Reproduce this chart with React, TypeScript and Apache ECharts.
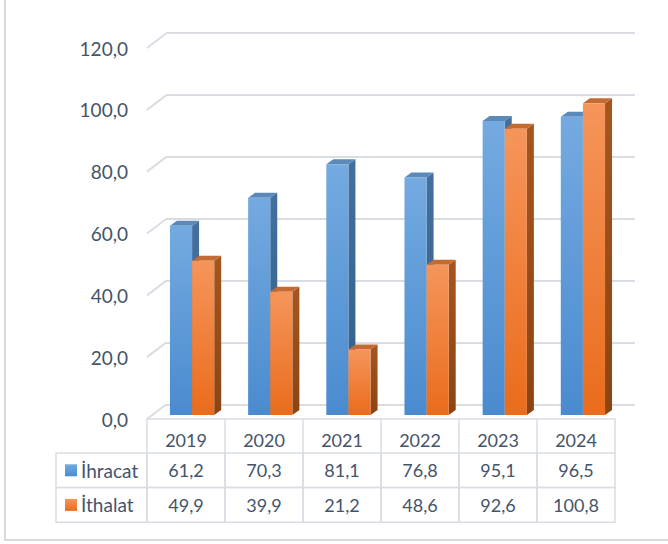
import React, { useEffect, useRef } from "react";
import * as echarts from "echarts";

const years = ["2019", "2020", "2021", "2022", "2023", "2024"];
const ihracat = [61.2, 70.3, 81.1, 76.8, 95.1, 96.5];
const ithalat = [49.9, 39.9, 21.2, 48.6, 92.6, 100.8];
const seriesNames = ["İhracat", "İthalat"];
const yMin = 0;
const yMax = 120;
const yStep = 20;
const yTicks = [0, 20, 40, 60, 80, 100, 120];

const TEXT = "#44546a";
const GRID = "#d9dde3";
const FONT = "Lato";
const DX = 7;
const DY = 5;
const ROW_TOP = 453;
const ROW_H = 34.6;

const fmt = (v: number) => v.toFixed(1).replace(".", ",");

const palettes = [
  {
    front: ["#74aae0", "#4a8bcf"],
    side: ["#43709f", "#345d8a"],
    top: "#5b89ba",
  },
  {
    front: ["#f5955b", "#ea6c1c"],
    side: ["#a5561f", "#8a4414"],
    top: "#c46b33",
  },
];

function grad(c: string[]) {
  return new echarts.graphic.LinearGradient(0, 0, 0, 1, [
    { offset: 0, color: c[0] },
    { offset: 1, color: c[1] },
  ]);
}

function barSeries(idx: number, values: number[]) {
  const pal = palettes[idx];
  return {
    type: "custom",
    name: seriesNames[idx],
    xAxisIndex: 0,
    yAxisIndex: 0,
    silent: true,
    data: values.map((v, i) => [i, v]),
    renderItem: (params: any, api: any) => {
      const i = api.value(0);
      const v = api.value(1);
      const base = api.coord([i, 0]);
      const top = api.coord([i, v]);
      const bw = api.size([1, 0])[0];
      const w = bw * 0.283;
      const x0 = idx === 0 ? base[0] - w : base[0];
      const x1 = x0 + w;
      const yb = base[1];
      const yt = top[1];
      return {
        type: "group",
        children: [
          {
            type: "polygon",
            shape: { points: [[x1, yt], [x1 + DX, yt - DY], [x1 + DX, yb - DY], [x1, yb]] },
            style: { fill: grad(pal.side) },
          },
          {
            type: "polygon",
            shape: { points: [[x0, yt], [x0 + DX, yt - DY], [x1 + DX, yt - DY], [x1, yt]] },
            style: { fill: pal.top },
          },
          {
            type: "rect",
            shape: { x: x0, y: yt, width: w, height: yb - yt },
            style: { fill: grad(pal.front) },
          },
        ],
      };
    },
  };
}

export default function App() {
  const ref = useRef<HTMLDivElement>(null);
  useEffect(() => {
    if (!ref.current) return;
    const chart = echarts.init(ref.current, null, { renderer: "svg" });
    const axisHidden = { show: false };
    const option: any = {
      animation: false,
      backgroundColor: "#ffffff",
      textStyle: { fontFamily: FONT },
      graphic: [
        {
          type: "rect",
          shape: { x: 5, y: -5, width: 700, height: 545 },
          style: { fill: "none", stroke: "#d9d9d9", lineWidth: 2 },
          silent: true,
        },
      ],
      grid: [
        { left: 153, right: 46, top: 44, bottom: 129 },
        { left: 166, right: 33, top: 33, bottom: 139 },
        { left: 147, right: 53, top: 48, bottom: 125 },
      ],
      xAxis: [
        { type: "category", gridIndex: 0, data: years, show: false },
        { type: "category", gridIndex: 1, data: years, show: false },
        {
          type: "category",
          gridIndex: 2,
          data: years,
          position: "bottom",
          axisLine: { show: true, lineStyle: { color: GRID, width: 1.5 } },
          axisTick: { show: true, length: 34, lineStyle: { color: GRID, width: 1.5 } },
          axisLabel: { margin: 11, fontSize: 18, color: TEXT, fontFamily: FONT, lineHeight: 20 },
          splitLine: { show: false },
        },
      ],
      yAxis: [
        { type: "value", gridIndex: 0, min: yMin, max: yMax, interval: yStep, show: false },
        {
          type: "value",
          gridIndex: 1,
          min: yMin,
          max: yMax,
          interval: yStep,
          axisLine: axisHidden,
          axisTick: axisHidden,
          axisLabel: axisHidden,
          splitLine: { show: true, lineStyle: { color: GRID, width: 2 } },
        },
        {
          type: "value",
          gridIndex: 2,
          min: yMin,
          max: yMax,
          interval: yStep,
          axisLine: axisHidden,
          axisTick: axisHidden,
          splitLine: axisHidden,
          axisLabel: {
            margin: 19,
            fontSize: 19,
            color: TEXT,
            fontFamily: FONT,
            formatter: (v: number) => fmt(v),
          },
        },
      ],
      series: [
        {
          type: "custom",
          xAxisIndex: 2,
          yAxisIndex: 2,
          silent: true,
          data: yTicks.map((t) => [0, t]),
          renderItem: (params: any, api: any) => {
            const p = api.coord([0, api.value(1)]);
            const x = params.coordSys.x;
            return {
              type: "line",
              shape: { x1: x, y1: p[1], x2: x + 19, y2: p[1] - 14.5 },
              style: { stroke: GRID, lineWidth: 2 },
            };
          },
        },
        barSeries(0, ihracat),
        barSeries(1, ithalat),
        {
          type: "custom",
          xAxisIndex: 2,
          yAxisIndex: 2,
          silent: true,
          data: years.map((y, i) => [i, ihracat[i], ithalat[i]]),
          renderItem: (params: any, api: any) => {
            const i = api.value(0);
            const cx = api.coord([i, 0])[0];
            const bw = api.size([1, 0])[0];
            const x0 = cx - bw / 2;
            const vals = [api.value(1), api.value(2)];
            const children: any[] = [];
            vals.forEach((v: number, r: number) => {
              const y = ROW_TOP + r * ROW_H;
              children.push({
                type: "rect",
                shape: { x: x0, y, width: bw, height: ROW_H },
                style: { fill: "none", stroke: GRID, lineWidth: 1.5 },
              });
              children.push({
                type: "text",
                x: cx,
                y: y + ROW_H / 2,
                style: {
                  text: fmt(v),
                  fill: TEXT,
                  fontSize: 18,
                  fontFamily: FONT,
                  align: "center",
                  verticalAlign: "middle",
                },
              });
            });
            if (i === 0) {
              const lx = x0 - 91;
              seriesNames.forEach((name, r) => {
                const y = ROW_TOP + r * ROW_H;
                const pal = palettes[r];
                children.push({
                  type: "rect",
                  shape: { x: lx, y, width: 91, height: ROW_H },
                  style: { fill: "none", stroke: GRID, lineWidth: 1.5 },
                });
                children.push({
                  type: "rect",
                  shape: { x: lx + 9, y: y + ROW_H / 2 - 6, width: 12, height: 12 },
                  style: { fill: grad(pal.front) },
                });
                children.push({
                  type: "text",
                  x: lx + 25,
                  y: y + ROW_H / 2,
                  style: {
                    text: name,
                    fill: TEXT,
                    fontSize: 19,
                    fontFamily: FONT,
                    align: "left",
                    verticalAlign: "middle",
                  },
                });
              });
            }
            return { type: "group", children };
          },
        },
      ],
    };
    chart.setOption(option);
    return () => chart.dispose();
  }, []);
  return (
    <div
      ref={ref}
      style={{ position: "fixed", left: 0, top: 0, width: 668, height: 544 }}
    />
  );
}
